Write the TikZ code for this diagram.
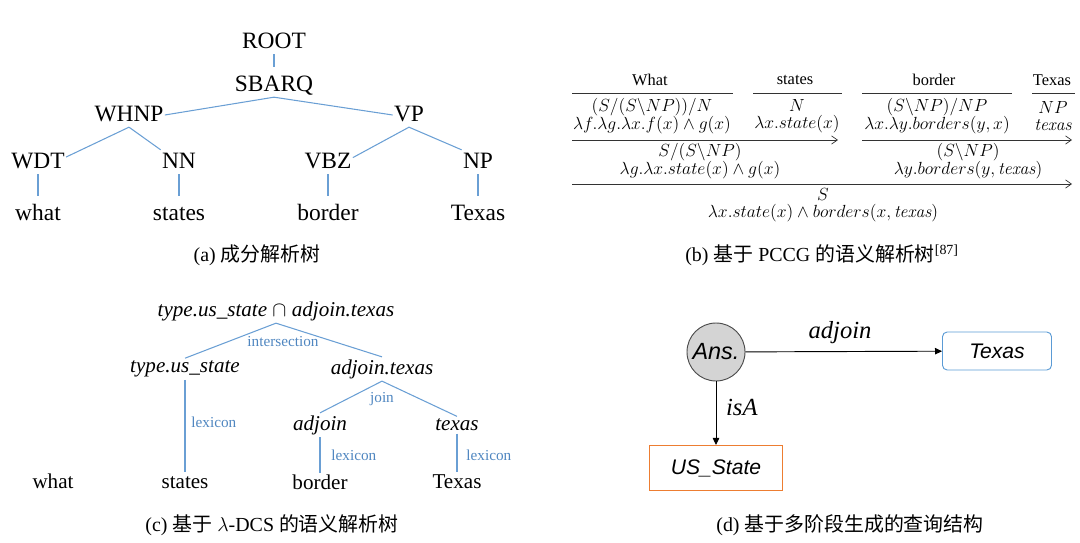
\RequirePackage{fix-cm}
\documentclass[tikz,border=0pt]{standalone}
\usepackage{amsmath, amssymb}
\usepackage{fontspec}
\setmainfont{Liberation Serif}
\newfontfamily\cjk{Noto Sans CJK SC}
\newfontfamily\gsans{Liberation Sans}
\usetikzlibrary{arrows.meta, positioning}
\definecolor{treeblue}{HTML}{6A9FD4}
\definecolor{lblblue}{HTML}{4F86C0}
\definecolor{boxblue}{HTML}{5B9BD5}
\definecolor{boxorange}{HTML}{ED7D31}
\newcommand{\cit}[1]{{\fontfamily{lmr}\itshape #1}}

\begin{document}
\begin{tikzpicture}[
			x=0.03cm, y=-0.03cm,
			syn/.style={font=\fontsize{20}{22}\selectfont, inner sep=1pt, text height=14.4pt, text depth=4pt},
			sem/.style={font=\fontsize{18}{20}\selectfont\itshape, inner sep=2pt},
			leaf/.style={font=\fontsize{18}{20}\selectfont, inner sep=1pt, text height=13pt, text depth=3.6pt},
			lbl/.style={font=\fontsize{13}{15}\selectfont, text=lblblue, inner sep=1pt},
			word/.style={font=\fontsize{14}{16}\selectfont, inner sep=0pt},
			cat/.style={font={\fontsize{15}{15}\selectfont\lineskiplimit=-20pt}, inner sep=0pt, align=center},
			subcap/.style={font=\fontsize{17}{19}\selectfont},
			tline/.style={draw=treeblue, line width=0.9pt},
			vline/.style={tline, shorten >=5pt},
			rule/.style={draw=black!80, line width=0.6pt},
			fwd/.style={rule, -{Straight Barb[length=5pt, width=7pt, line width=0.6pt]}},
			arr/.style={-{Triangle[length=6pt, width=5.5pt]}, line width=0.8pt},
			ans/.style={circle, draw=black!70, fill=black!17, line width=0.8pt,
				minimum size=1.74cm, inner sep=0pt, font=\gsans\itshape\fontsize{20}{22}\selectfont},
			ent/.style={draw, line width=0.8pt, font=\gsans\itshape\fontsize{18}{20}\selectfont}
			]
			
			\useasboundingbox (0,0) rectangle (1080,543);
			
			\node[syn] (root) at (274,42) {ROOT};
			\node[syn] (sbarq) at (274,85) {SBARQ};
			\node[syn] (whnp) at (129,115) {WHNP};
			\node[syn] (vp) at (409,115) {VP};
			\node[syn] (wdt) at (38,162) {WDT};
			\node[syn] (nn) at (179,162) {NN};
			\node[syn] (vbz) at (328,162) {VBZ};
			\node[syn] (np) at (478,162) {NP};
			\node[syn] (what) at (38,214) {what};
			\node[syn] (states) at (179,214) {states};
			\node[syn] (border) at (328,214) {border};
			\node[syn] (texas) at (478,214) {Texas};
			
			\draw[vline] (root) -- (sbarq);
			\draw[tline] (sbarq.south) -- (whnp.east);
			\draw[tline] (sbarq.south) -- (vp.west);
			\draw[tline] (whnp.south) -- (wdt.10);
			\draw[tline] (whnp.south) -- (nn.north west);
			\draw[tline] (vp.south) -- (vbz.10);
			\draw[tline] (vp.south) -- (np.north west);
			\draw[vline] (wdt) -- (what);
			\draw[vline] (nn) -- (states);
			\draw[vline] (vbz) -- (border);
			\draw[vline] (np) -- (texas);
			
			\node[subcap] (capa) at (257,255) {(a) {\cjk 成分解析树}};
			
			\node[word] (gwhat) at (650,80) {What};
			\node[word] (gstates) at (795,80) {states};
			\node[word] (gborder) at (934,80) {border};
			\node[word] (gtexas) at (1052,80) {Texas};
			
			\draw[rule] (572,93) -- (733,93);
			\draw[rule] (753,93) -- (842,93);
			\draw[rule] (862,93) -- (1012,93);
			\draw[rule] (1032,93) -- (1075,93);
			
			\node[cat] (cwhat) at (652,116) {$(S/(S\backslash NP))/N$\\$\lambda f.\lambda g.\lambda x.f(x)\wedge g(x)$};
			\node[cat] (cstates) at (797,116) {$N$\\$\lambda x.state(x)$};
			\node[cat] (cborder) at (937,116) {$(S\backslash NP)/NP$\\$\lambda x.\lambda y.borders(y,x)$};
			\node[cat] (ctexas) at (1053,116) {$NP$\\\cit{texas}};
			
			\draw[fwd] (572,140) -- (838,140);
			\draw[fwd] (862,140) -- (1072,140);
			
			\node[cat] (cleft) at (700,161) {$S/(S\backslash NP)$\\$\lambda g.\lambda x.state(x)\wedge g(x)$};
			\node[cat] (cright) at (968,161) {$(S\backslash NP)$\\$\lambda y.borders(y,\text{\cit{texas}})$};
			
			\draw[fwd] (572,184) -- (1072,184);
			
			\node[cat] (cfull) at (823,205) {$S$\\$\lambda x.state(x)\wedge borders(x,\text{\cit{texas}})$};
			
			\node[subcap] (capb) at (822,255) {(b) {\cjk 基于} PCCG {\cjk 的语义解析树}\textsuperscript{[87]}};
			
			\node[sem] (dtop) at (276,311) {type.us\_state {\upshape$\cap$} adjoin.texas};
			\node[sem] (dstate) at (185,369) {type.us\_state};
			\node[sem] (dadj) at (382,369) {adjoin.texas};
			\node[sem] (dadjoin) at (320,425) {adjoin};
			\node[sem] (dtexas) at (457,425) {texas};
			\node[leaf] (dwhat) at (53,483) {what};
			\node[leaf] (dstates) at (185,483) {states};
			\node[leaf] (dborder) at (320,484) {border};
			\node[leaf] (dTexas) at (457,483) {Texas};
			
			\draw[tline] (dtop.south) -- (dstate.north);
			\draw[tline] (dtop.south) -- (dadj.north);
			\draw[tline] (dadj.south) -- (dadjoin.north);
			\draw[tline] (dadj.south) -- (dtexas.north);
			\draw[tline] (dstate) -- (dstates);
			\draw[tline] (dadjoin) -- (dborder);
			\draw[tline] (dtexas) -- (dTexas);
			
			\node[lbl] (linter) at (283,342) {intersection};
			\node[lbl] (ljoin) at (382,399) {join};
			\node[lbl, anchor=west] (llex1) at (190,422) {lexicon};
			\node[lbl, anchor=west] (llex2) at (330,455) {lexicon};
			\node[lbl, anchor=west] (llex3) at (465,455) {lexicon};
			
			\node[subcap] (capc) at (272,525) {(c) {\cjk 基于} $\lambda$-DCS {\cjk 的语义解析树}};
			
			\node[ans] (qans) at (716,352) {Ans.};
			\node[ent, draw=boxblue, rounded corners=4pt, minimum width=3.27cm, minimum height=1.14cm] (qtexas) at (997,351) {Texas};
			\node[ent, draw=boxorange, minimum width=3.99cm, minimum height=1.35cm] (qstate) at (716,468) {US\_State};
			
			\draw[arr] (qans) -- (qtexas);
			\draw[arr] (qans) -- (qstate);
			
			\node[font=\fontsize{21}{23}\selectfont\itshape] (qadjoin) at (840,333) {adjoin};
			\node[font=\fontsize{21}{23}\selectfont\itshape, anchor=west] (qisa) at (722,407) {isA};
			
			\node[subcap] (capd) at (850,525) {(d) {\cjk 基于多阶段生成的查询结构}};
			
		\end{tikzpicture}
\end{document}
